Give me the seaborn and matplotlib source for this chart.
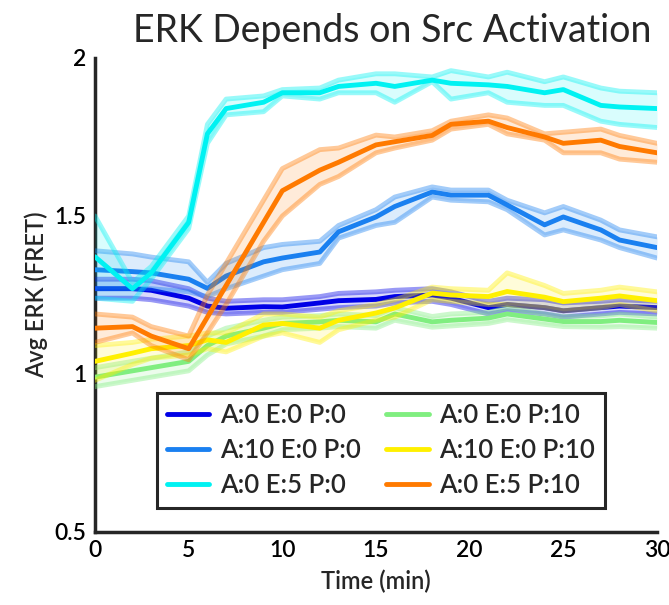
import numpy as np
import pandas as pd
import matplotlib
matplotlib.use("Agg")
import matplotlib.pyplot as plt
import seaborn as sns

time_min = [0, 2, 3, 5, 6, 7, 9, 10, 12, 13, 15, 16, 18, 19, 21, 22, 24, 25, 27, 28, 30]

conditions = ["A:0 E:0 P:0", "A:10 E:0 P:0", "A:0 E:5 P:0",
              "A:0 E:0 P:10", "A:10 E:0 P:10", "A:0 E:5 P:10"]
colors = ["#0000E6", "#1A80F0", "#00F2F2", "#80EE80", "#FFF000", "#FF7A00"]

a0e0p0_mean = [1.27, 1.27, 1.265, 1.24, 1.215, 1.208, 1.213, 1.212, 1.225, 1.232, 1.236,
               1.245, 1.25, 1.24, 1.21, 1.22, 1.21, 1.20, 1.21, 1.215, 1.21]
a0e0p0_lo = [1.24, 1.24, 1.235, 1.215, 1.195, 1.19, 1.195, 1.195, 1.205, 1.21, 1.215,
             1.225, 1.23, 1.22, 1.19, 1.20, 1.19, 1.18, 1.19, 1.195, 1.19]
a0e0p0_hi = [1.30, 1.30, 1.295, 1.27, 1.24, 1.23, 1.235, 1.235, 1.245, 1.255, 1.26,
             1.265, 1.27, 1.26, 1.23, 1.24, 1.235, 1.225, 1.23, 1.235, 1.23]

a10e0p0_mean = [1.33, 1.324, 1.32, 1.30, 1.271, 1.31, 1.355, 1.367, 1.386, 1.45, 1.497,
                1.53, 1.576, 1.566, 1.566, 1.535, 1.472, 1.497, 1.456, 1.424, 1.40]
a10e0p0_lo = [1.27, 1.27, 1.27, 1.26, 1.245, 1.27, 1.31, 1.33, 1.35, 1.43, 1.47,
              1.48, 1.56, 1.55, 1.545, 1.52, 1.44, 1.456, 1.424, 1.40, 1.367]
a10e0p0_hi = [1.39, 1.38, 1.37, 1.355, 1.29, 1.35, 1.40, 1.41, 1.42, 1.47, 1.52,
              1.56, 1.592, 1.582, 1.582, 1.55, 1.51, 1.53, 1.487, 1.456, 1.434]

a0e5p0_mean = [1.371, 1.27, 1.32, 1.48, 1.76, 1.84, 1.86, 1.89, 1.89, 1.91, 1.92,
               1.91, 1.93, 1.92, 1.915, 1.91, 1.89, 1.90, 1.85, 1.845, 1.84]
a0e5p0_lo = [1.24, 1.23, 1.30, 1.46, 1.73, 1.82, 1.83, 1.88, 1.87, 1.89, 1.89,
             1.86, 1.925, 1.87, 1.89, 1.86, 1.85, 1.85, 1.80, 1.79, 1.78]
a0e5p0_hi = [1.50, 1.29, 1.34, 1.50, 1.79, 1.87, 1.88, 1.90, 1.905, 1.93, 1.95,
             1.95, 1.94, 1.96, 1.94, 1.955, 1.925, 1.94, 1.905, 1.895, 1.89]

a0e0p10_mean = [0.99, 1.01, 1.02, 1.04, 1.09, 1.12, 1.145, 1.16, 1.165, 1.17, 1.165,
                1.19, 1.165, 1.17, 1.177, 1.19, 1.174, 1.166, 1.166, 1.17, 1.163]
a0e0p10_lo = [0.96, 0.98, 0.99, 1.01, 1.06, 1.095, 1.12, 1.14, 1.145, 1.15, 1.145,
              1.17, 1.148, 1.152, 1.16, 1.172, 1.157, 1.15, 1.148, 1.15, 1.145]
a0e0p10_hi = [1.02, 1.04, 1.05, 1.07, 1.12, 1.145, 1.17, 1.18, 1.185, 1.19, 1.185,
              1.21, 1.182, 1.19, 1.195, 1.21, 1.19, 1.182, 1.184, 1.19, 1.18]

a10e0p10_mean = [1.04, 1.066, 1.08, 1.09, 1.108, 1.10, 1.155, 1.16, 1.145, 1.17, 1.193,
                 1.209, 1.256, 1.25, 1.245, 1.261, 1.243, 1.229, 1.24, 1.247, 1.232]
a10e0p10_lo = [0.98, 1.03, 1.05, 1.06, 1.08, 1.07, 1.12, 1.13, 1.10, 1.14, 1.17,
               1.18, 1.235, 1.23, 1.22, 1.22, 1.21, 1.20, 1.21, 1.22, 1.20]
a10e0p10_hi = [1.09, 1.10, 1.11, 1.12, 1.13, 1.13, 1.19, 1.19, 1.18, 1.20, 1.22,
               1.235, 1.275, 1.27, 1.265, 1.32, 1.28, 1.255, 1.265, 1.275, 1.26]

a0e5p10_mean = [1.145, 1.15, 1.12, 1.08, 1.18, 1.28, 1.48, 1.58, 1.645, 1.67, 1.725,
                1.735, 1.755, 1.79, 1.80, 1.78, 1.75, 1.73, 1.74, 1.72, 1.70]
a0e5p10_lo = [1.10, 1.13, 1.09, 1.045, 1.13, 1.22, 1.42, 1.50, 1.60, 1.625, 1.70,
              1.715, 1.74, 1.775, 1.79, 1.76, 1.74, 1.70, 1.70, 1.68, 1.67]
a0e5p10_hi = [1.19, 1.18, 1.15, 1.12, 1.25, 1.35, 1.55, 1.65, 1.71, 1.715, 1.756,
              1.75, 1.77, 1.80, 1.82, 1.81, 1.76, 1.765, 1.775, 1.755, 1.73]

x_ticks = [0, 5, 10, 15, 20, 25, 30]
y_ticks = [0.5, 1.0, 1.5, 2.0]
y_tick_labels = ["0.5", "1", "1.5", "2"]

means = [a0e0p0_mean, a10e0p0_mean, a0e5p0_mean, a0e0p10_mean, a10e0p10_mean, a0e5p10_mean]
los = [a0e0p0_lo, a10e0p0_lo, a0e5p0_lo, a0e0p10_lo, a10e0p10_lo, a0e5p10_lo]
his = [a0e0p0_hi, a10e0p0_hi, a0e5p0_hi, a0e0p10_hi, a10e0p10_hi, a0e5p10_hi]

rows = []
for c, m, lo, hi in zip(conditions, means, los, his):
    for t, mv, lv, hv in zip(time_min, m, lo, hi):
        rows.append({"t": t, "mean": mv, "lo": lv, "hi": hv, "cond": c})
df = pd.DataFrame(rows)

sns.set_style("white")
plt.rcParams["font.family"] = ["Lato", "DejaVu Sans"]

fig = plt.figure(figsize=(6.69, 6.05), dpi=100)
ax = fig.add_axes([95 / 669, 1 - 532 / 605, (657 - 95) / 669, (532 - 58) / 605])

for i, c in enumerate(conditions):
    sub = df[df["cond"] == c]
    col = colors[i]
    ax.fill_between(sub["t"], sub["lo"], sub["hi"], color=col, alpha=0.15, lw=0, zorder=2 + i)
    sns.lineplot(data=sub, x="t", y="lo", color=col, alpha=0.4, lw=3.5, ax=ax,
                 legend=False, zorder=2 + i)
    sns.lineplot(data=sub, x="t", y="hi", color=col, alpha=0.4, lw=3.5, ax=ax,
                 legend=False, zorder=2 + i)
    sns.lineplot(data=sub, x="t", y="mean", color=col, lw=3.5, ax=ax,
                 legend=False, zorder=2.5 + i)

handles = [plt.Line2D([], [], color=colors[i], lw=3.5) for i in range(6)]
leg = ax.legend(handles, conditions, ncol=2, loc="upper left",
                bbox_to_anchor=(0.11, 0.293),
                frameon=True, fancybox=False, framealpha=1, edgecolor="#262626",
                prop={"size": 18.5, "weight": "semibold"}, handlelength=1.65,
                handletextpad=0.4, columnspacing=1.0, labelspacing=0.38,
                borderaxespad=0, borderpad=0.4)
leg.get_frame().set_linewidth(2.2)
leg.set_zorder(20)

ax.set_xlim(0, 30)
ax.set_ylim(0.5, 2)
ax.set_xticks(x_ticks)
ax.set_yticks(y_ticks)
ax.set_yticklabels(y_tick_labels)
for s in ["top", "right"]:
    ax.spines[s].set_visible(False)
for s in ["left", "bottom"]:
    ax.spines[s].set_linewidth(2.5)
    ax.spines[s].set_color("#262626")
    ax.spines[s].set_zorder(1)
ax.tick_params(direction="in", length=7, width=2.5, colors="#262626",
               labelsize=16.5, labelcolor="black", pad=6)
for lab in ax.get_xticklabels() + ax.get_yticklabels():
    lab.set_fontweight("semibold")
ax.set_xlabel("Time (min)", fontsize=17, fontweight="semibold", labelpad=6)
ax.set_ylabel("Avg ERK (FRET)", fontsize=17, fontweight="semibold", labelpad=5)
fig.text(392 / 669, 1 - 31 / 605, "ERK Depends on Src Activation", fontsize=27,
         ha="center", va="center")

fig.savefig("out.png", dpi=100)
